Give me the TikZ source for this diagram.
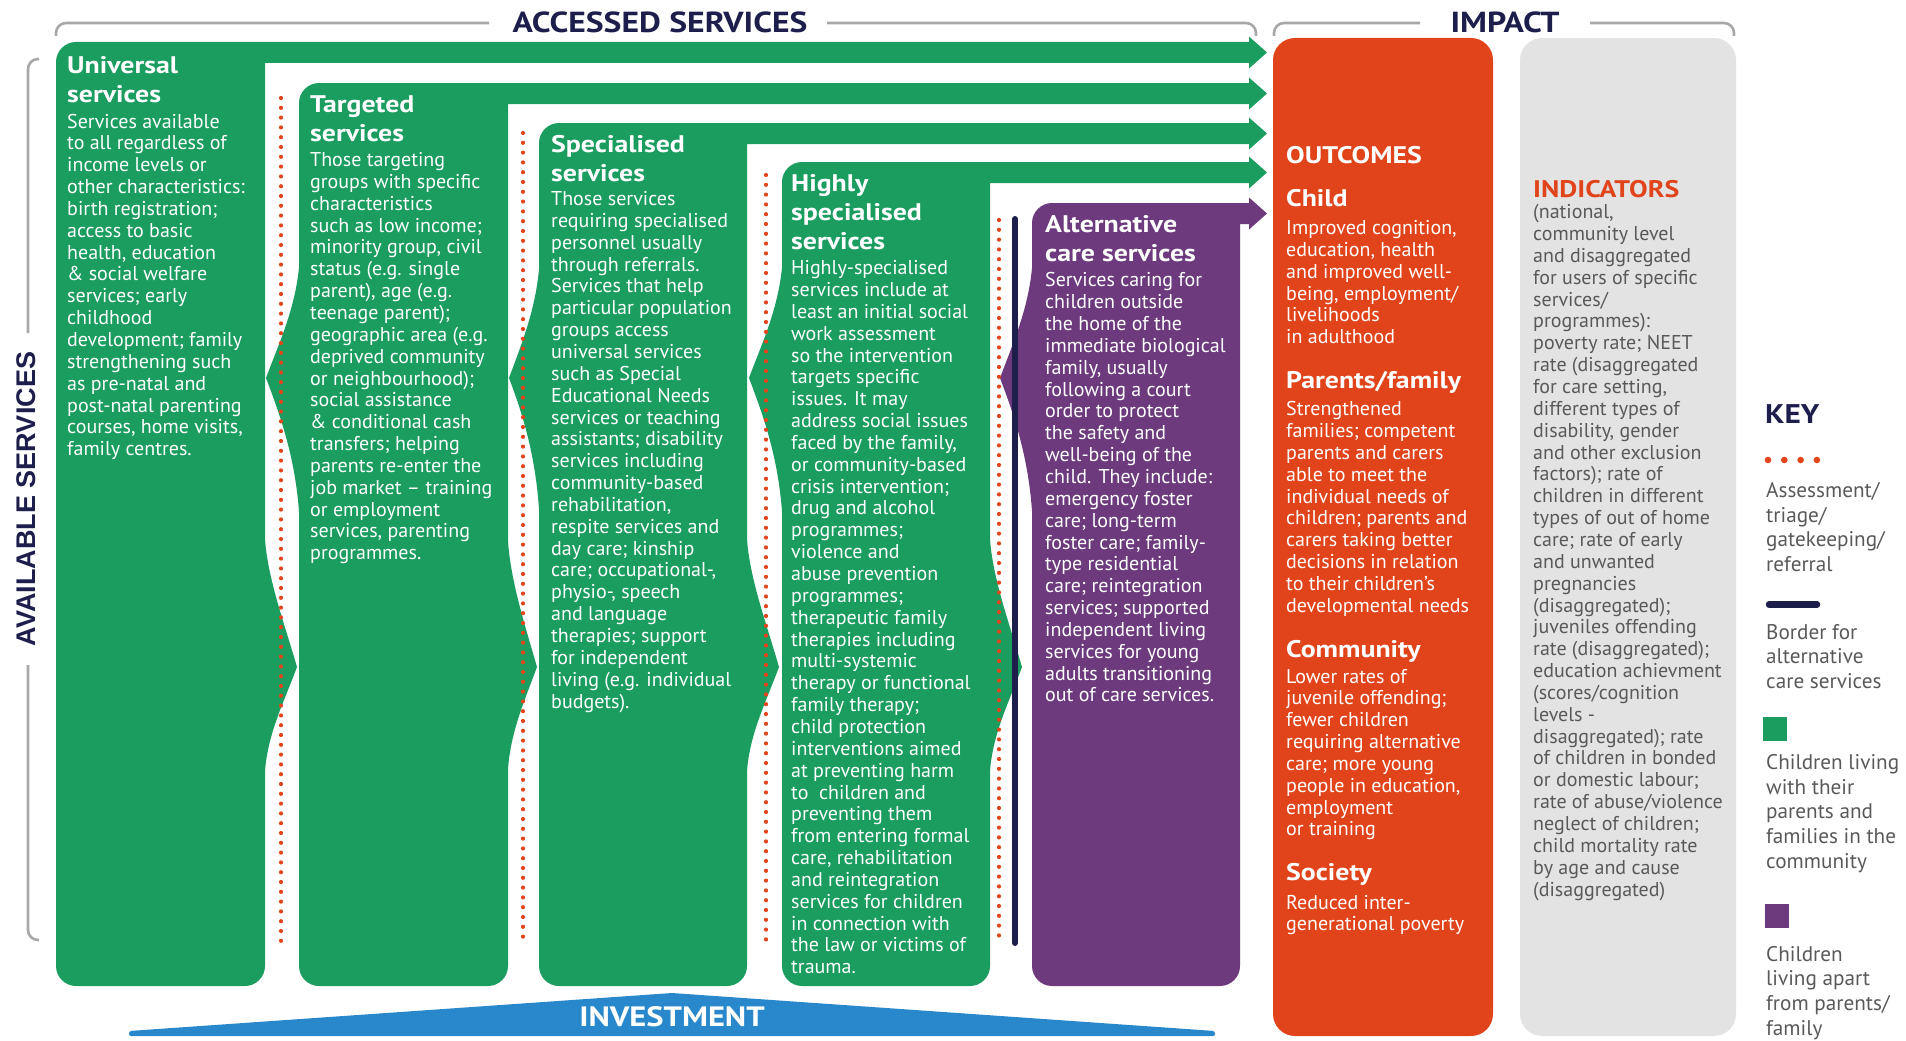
\documentclass[tikz,border=0pt]{standalone}
\usepackage{fontspec}
\setmainfont{PT Sans}
\newfontfamily\headfont{PT Sans}[FakeStretch=1.16]
\newfontfamily\widefont{Liberation Sans}
\definecolor{svgreen}{HTML}{1A9D5F}
\definecolor{svpurple}{HTML}{6C3A7D}
\definecolor{svorange}{HTML}{E1441A}
\definecolor{svgrey}{HTML}{E3E3E3}
\definecolor{svnavy}{HTML}{1E1E4C}
\definecolor{svblue}{HTML}{2888CB}
\definecolor{svdot}{HTML}{E2441C}
\definecolor{svbracket}{HTML}{A8A8A8}
\definecolor{svtext}{HTML}{595959}

% text block whose first baseline is the node's base anchor
\newcommand\lines[1]{\begin{minipage}[t]{280pt}\raggedright #1\end{minipage}}

% service column: rounded box whose top edge runs out into an arrow
\newcommand\svcbox[4]{% colour, left, right, top
  \fill[#1] (#2,{#4+20}) .. controls (#2,{#4+9}) and ({#2+9},#4) .. ({#2+20},#4)
    -- (1249,#4) -- (1249,{#4-5.5}) -- (1267,{#4+10.5}) -- (1249,{#4+26.5}) -- (1249,{#4+21})
    -- (#3,{#4+21}) -- (#3,966) .. controls (#3,977) and ({#3-9},986) .. ({#3-20},986)
    -- ({#2+20},986) .. controls ({#2+9},986) and (#2,977) .. (#2,966) -- cycle;}
% pointed bulge on the left edge of a column
\newcommand\leftbump[3]{% colour, edge x, width
  \fill[#1] ({#2+1},247) .. controls ({#2+1},300) and ({#2-#3+14},340) .. ({#2-#3},378)
    .. controls ({#2-#3+16},420) and ({#2+1},470) .. ({#2+1},540) -- cycle;}
% pointed bulge on the right edge of a column
\newcommand\rightbump[3]{% colour, edge x, width
  \fill[#1] ({#2-1},520) .. controls ({#2-1},570) and ({#2+#3-15},615) .. ({#2+#3},667)
    .. controls ({#2+#3-16},710) and ({#2-1},740) .. ({#2-1},790) -- cycle;}

\tikzset{
  referral/.style={svdot, line width=4.2pt, line cap=round, dash pattern=on 0pt off 9.8pt},
  bracket/.style={svbracket, line width=2.6pt, rounded corners=10pt},
  title/.style={inner sep=0pt, text=svnavy, font=\fontsize{29}{31}\selectfont\headfont\bfseries},
  svhead/.style={anchor=base west, inner sep=0pt, text=white, font=\fontsize{24}{29}\selectfont\headfont\bfseries},
  svbody/.style={anchor=base west, inner sep=0pt, text=white, font=\fontsize{20}{21.85}\selectfont},
  keytext/.style={anchor=base west, inner sep=0pt, text=svtext, font=\fontsize{21.2}{24.7}\selectfont},
}

\begin{document}
\begin{tikzpicture}[x=1pt,y=-1pt]
\useasboundingbox (0,0) rectangle (1906,1041);

% brackets
\draw[bracket] (56,36) -- (56,23) -- (489,23);
\draw[bracket] (827,23) -- (1256,23) -- (1256,36);
\draw[bracket] (1274,36) -- (1274,23) -- (1420,23);
\draw[bracket] (1590,23) -- (1734,23) -- (1734,36);
\draw[bracket] (39,59) -- (28,59) -- (28,333);
\draw[bracket] (28,665) -- (28,940) -- (39,940);
\node[title] (accessed) at (660,22) {ACCESSED SERVICES};
\node[title] (impact) at (1505,22) {IMPACT};
\node[inner sep=0pt, text=svnavy, rotate=90, font=\fontsize{27}{29}\selectfont\widefont\bfseries]
  (available) at (26,499) {AVAILABLE SERVICES};

% service columns
\svcbox{svgreen}{56}{265}{42}
\svcbox{svgreen}{299}{508}{83}
\svcbox{svgreen}{539}{747}{123}
\svcbox{svgreen}{782}{990}{162}
\svcbox{svpurple}{1032}{1240}{203}
\rightbump{svgreen}{265}{32}
\leftbump{svgreen}{299}{33}
\rightbump{svgreen}{508}{29}
\leftbump{svgreen}{539}{30}
\rightbump{svgreen}{747}{32}
\leftbump{svgreen}{782}{33}
\rightbump{svgreen}{990}{32}
\leftbump{svpurple}{1032}{32}

% referral lines and border of alternative care
\draw[referral] (281,98) -- (281,943);
\draw[referral] (523,133) -- (523,943);
\draw[referral] (766,175) -- (766,943);
\draw[referral] (999,220) -- (999,943);
\draw[svnavy, line width=6pt, line cap=round] (1015,219) -- (1015,943);

% impact columns
\fill[svorange, rounded corners=22pt] (1273,38) rectangle (1493,1036);
\fill[svgrey, rounded corners=22pt] (1520,38) rectangle (1736,1036);

% investment
\fill[svblue, rounded corners=2pt] (129,1036) -- (129,1031) -- (672,993) -- (1215,1031) -- (1215,1036) -- cycle;
\node[inner sep=0pt, text=white, font=\fontsize{28}{30}\selectfont\headfont\bfseries] (investment) at (672,1017) {INVESTMENT};

% column texts
\node[svhead] (uhead) at (67,73.5) {\lines{Universal\\services}};
\node[svbody] (ubody) at (67,128) {\lines{Services available\\to all regardless of\\income levels or\\other characteristics:\\birth registration;\\access to basic\\health, education\\\& social welfare\\services; early\\childhood\\development; family\\strengthening such\\as pre-natal and\\post-natal parenting\\courses, home visits,\\family centres.}};

\node[svhead] (thead) at (310,112.5) {\lines{Targeted\\services}};
\node[svbody] (tbody) at (310,166.5) {\lines{Those targeting\\groups with specific\\characteristics\\such as low income;\\minority group, civil\\status (e.g. single\\parent), age (e.g.\\teenage parent);\\geographic area (e.g.\\deprived community\\or neighbourhood);\\social assistance\\\& conditional cash\\transfers; helping\\parents re-enter the\\job market – training\\or employment\\services, parenting\\programmes.}};

\node[svhead] (shead) at (551,152.5) {\lines{Specialised\\services}};
\node[svbody] (sbody) at (551,205.5) {\lines{Those services\\requiring specialised\\personnel usually\\through referrals.\\Services that help\\particular population\\groups access\\universal services\\such as Special\\Educational Needs\\services or teaching\\assistants; disability\\services including\\community-based\\rehabilitation,\\respite services and\\day care; kinship\\care; occupational-,\\physio-, speech\\and language\\therapies; support\\for independent\\living (e.g. individual\\budgets).}};

\node[svhead] (hhead) at (791,191) {\lines{Highly\\specialised\\services}};
\node[svbody] (hbody) at (791,274.6) {\lines{Highly-specialised\\services include at\\least an initial social\\work assessment\\so the intervention\\targets specific\\issues. It may\\address social issues\\faced by the family,\\or community-based\\crisis intervention;\\drug and alcohol\\programmes;\\violence and\\abuse prevention\\programmes;\\therapeutic family\\therapies including\\multi-systemic\\therapy or functional\\family therapy;\\child protection\\interventions aimed\\at preventing harm\\to\ \ children and\\preventing them\\from entering formal\\care, rehabilitation\\and reintegration\\services for children\\in connection with\\the law or victims of\\trauma.}};

\node[svhead] (ahead) at (1045,232.5) {\lines{Alternative\\care services}};
\node[svbody] (abody) at (1045,286.8) {\lines{Services caring for\\children outside\\the home of the\\immediate biological\\family, usually\\following a court\\order to protect\\the safety and\\well-being of the\\child. They include:\\emergency foster\\care; long-term\\foster care; family-\\type residential\\care; reintegration\\services; supported\\independent living\\services for young\\adults transitioning\\out of care services.}};

% outcomes
\node[svhead] (outcomes) at (1286,163) {OUTCOMES};
\node[svhead] (child) at (1286,206) {Child};
\node[svbody] (childtxt) at (1286,234.5) {\lines{Improved cognition,\\education, health\\and improved well-\\being, employment/\\livelihoods\\in adulthood}};
\node[svhead] (parents) at (1286,388) {Parents/family};
\node[svbody] (parentstxt) at (1286,415.7) {\lines{Strengthened\\families; competent\\parents and carers\\able to meet the\\individual needs of\\children; parents and\\carers taking better\\decisions in relation\\to their children’s\\developmental needs}};
\node[svhead] (community) at (1286,657) {Community};
\node[svbody] (communitytxt) at (1286,683) {\lines{Lower rates of\\juvenile offending;\\fewer children\\requiring alternative\\care; more young\\people in education,\\employment\\or training}};
\node[svhead] (society) at (1286,880.6) {Society};
\node[svbody] (societytxt) at (1286,909) {\lines{Reduced inter-\\generational poverty}};

% indicators
\node[svhead, text=svorange] (indicators) at (1533,197) {INDICATORS};
\node[svbody, text=svtext] (indtxt) at (1533,218.7) {\lines{(national,\\community level\\and disaggregated\\for users of specific\\services/\\programmes):\\poverty rate; NEET\\rate (disaggregated\\for care setting,\\different types of\\disability, gender\\and other exclusion\\factors); rate of\\children in different\\types of out of home\\care; rate of early\\and unwanted\\pregnancies\\(disaggregated);\\juveniles offending\\rate (disaggregated);\\education achievment\\(scores/cognition\\levels -\\disaggregated); rate\\of children in bonded\\or domestic labour;\\rate of abuse/violence\\neglect of children;\\child mortality rate\\by age and cause\\(disaggregated)}};

% key
\node[anchor=base west, inner sep=0pt, text=svnavy, font=\fontsize{27}{29}\selectfont\headfont\bfseries] (key) at (1765,423) {KEY};
\foreach \i in {0,1,2,3} \fill[svdot] ({1768+16.3*\i},460) circle[radius=3.3];
\node[keytext] (keyref) at (1766,497.5) {\lines{Assessment/\\triage/\\gatekeeping/\\referral}};
\draw[svnavy, line width=6.5pt, line cap=round] (1769,604.5) -- (1817,604.5);
\node[keytext] (keyborder) at (1766,639) {\lines{Border for\\alternative\\care services}};
\fill[svgreen] (1763,717) rectangle (1787,741);
\node[keytext] (keygreen) at (1766,769.5) {\lines{Children living\\with their\\parents and\\families in the\\community}};
\fill[svpurple] (1765,904) rectangle (1789,928);
\node[keytext] (keypurple) at (1766,961) {\lines{Children\\living apart\\from parents/\\family}};
\end{tikzpicture}
\end{document}
